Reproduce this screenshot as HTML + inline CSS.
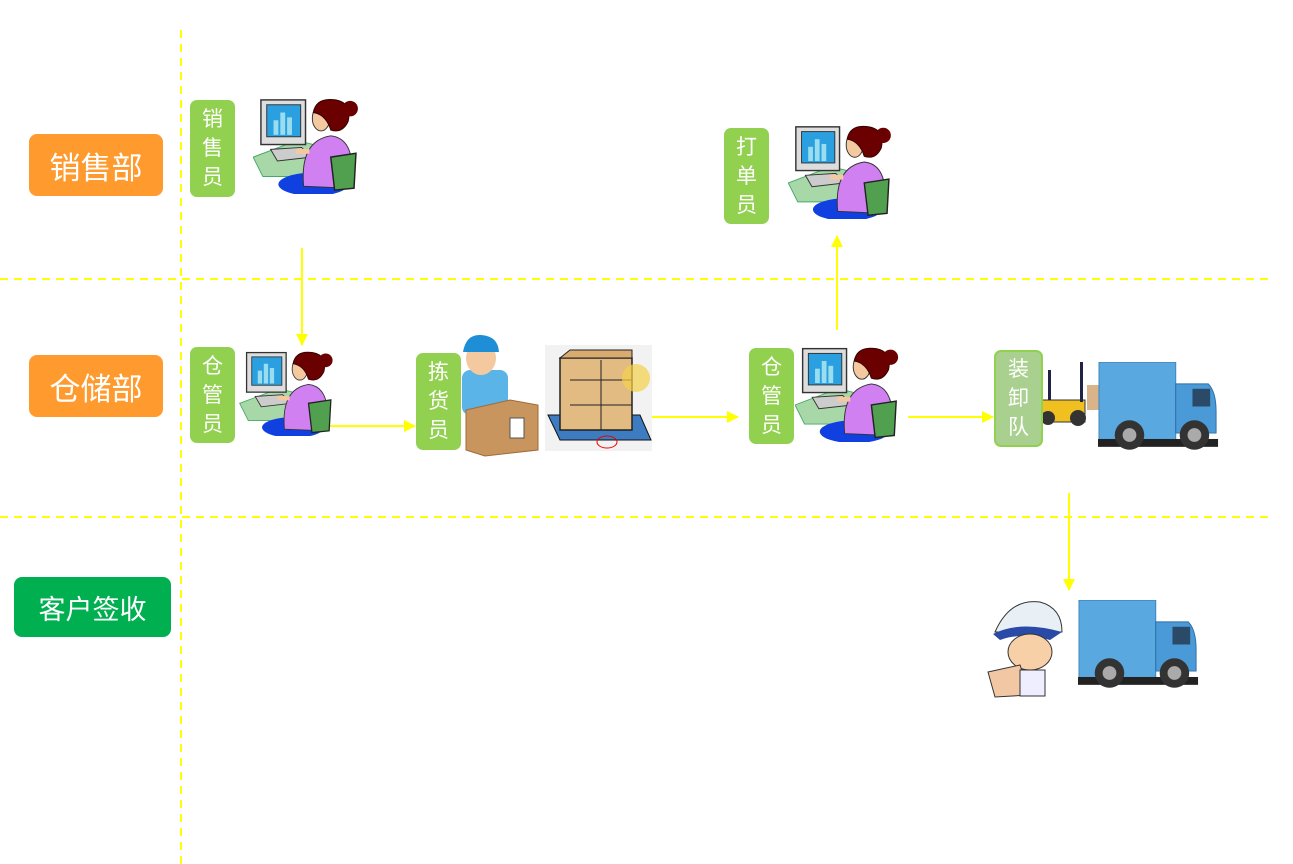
<!DOCTYPE html>
<html><head><meta charset="utf-8"><style>
body{margin:0;width:1293px;height:864px;background:#fff;position:relative;overflow:hidden;font-family:"Liberation Sans","Noto Sans CJK SC",sans-serif}
.a{position:absolute}
.dept{position:absolute;color:#fff;border-radius:8px;display:flex;align-items:center;justify-content:center}
.lab{position:absolute;background:#92d050;border-radius:7px;color:#fff;font-size:21px;line-height:29px;text-align:center;display:flex;align-items:center;justify-content:center}
</style></head><body>
<svg class="a" style="left:0;top:0" width="1293" height="864">
<defs>
<symbol id="w" viewBox="0 0 110 100">
<polygon points="0,62 45,45 75,52 55,82 10,82" fill="#a8d8a8" stroke="#4a6" stroke-width="1"/>
<rect x="8" y="3" width="46" height="46" fill="#ddd" stroke="#333" stroke-width="1.5"/>
<rect x="14" y="8" width="35" height="33" fill="#2aa0e0" stroke="#333"/>
<rect x="21" y="24" width="5" height="15" fill="#9de"/><rect x="28" y="16" width="5" height="23" fill="#9de"/><rect x="35" y="21" width="5" height="18" fill="#9de"/>
<polygon points="18,54 50,52 60,62 25,66" fill="#ccc" stroke="#333"/>
<ellipse cx="62" cy="90" rx="36" ry="12" fill="#1040e0"/>
<path d="M52,92 Q48,45 80,40 Q100,42 102,70 L98,94 Z" fill="#d080f0" stroke="#333"/>
<path d="M80,62 L106,58 L104,94 L84,96 Z" fill="#50a050" stroke="#222" stroke-width="1.5"/>
<ellipse cx="70" cy="22" rx="9" ry="13" fill="#f5c9a0" stroke="#333"/>
<path d="M62,16 Q65,0 85,3 Q102,6 98,25 Q92,38 80,34 Q75,18 62,16Z" fill="#6b0000" stroke="#300"/>
<circle cx="100" cy="12" r="8" fill="#6b0000"/>
<path d="M58,56 L44,56" stroke="#f5c9a0" stroke-width="5"/>
</symbol>
<symbol id="t" viewBox="0 0 125 90">
<rect x="1" y="0" width="78" height="80" fill="#5aa8e0" stroke="#3c86c0"/>
<rect x="0" y="78" width="122" height="8" fill="#222"/>
<path d="M79,22 L112,22 Q120,30 120,50 L120,72 L79,72Z" fill="#4a9ad8" stroke="#2d6fa8"/>
<rect x="96" y="27" width="18" height="18" fill="#2a4a68"/>
<circle cx="32" cy="74" r="15" fill="#333"/><circle cx="32" cy="74" r="7" fill="#aaa"/>
<circle cx="98" cy="74" r="15" fill="#333"/><circle cx="98" cy="74" r="7" fill="#aaa"/>
</symbol>
<marker id="ar" markerWidth="12" markerHeight="12" refX="11" refY="6" orient="auto" markerUnits="userSpaceOnUse"><path d="M0,0 L12,6 L0,12Z" fill="#ffff00"/></marker>
</defs>
<g stroke="#ffff00" stroke-width="2" stroke-dasharray="8,6" fill="none">
<line x1="181" y1="30" x2="181" y2="864"/>
<line x1="0" y1="279" x2="1270" y2="279"/>
<line x1="0" y1="517" x2="1270" y2="517"/>
</g>
<g stroke="#ffff00" stroke-width="2" marker-end="url(#ar)">
<line x1="302" y1="248" x2="302" y2="345"/>
<line x1="330" y1="426" x2="415" y2="426"/>
<line x1="652" y1="417" x2="738" y2="417"/>
<line x1="837" y1="330" x2="837" y2="236"/>
<line x1="908" y1="417" x2="993" y2="417"/>
<line x1="1069" y1="493" x2="1069" y2="590"/>
</g>
<use href="#w" x="253" y="97" width="107" height="97"/>
<use href="#w" x="787" y="124" width="107" height="95"/>
<use href="#w" x="239" y="350" width="96" height="86"/>
<use href="#w" x="795" y="345" width="105" height="97"/>
<!-- picker -->
<rect x="462" y="370" width="46" height="45" rx="8" fill="#5ab4e8"/>
<ellipse cx="481" cy="358" rx="15" ry="17" fill="#f5c9a0"/>
<path d="M463,352 Q466,334 481,335 Q498,336 499,352Z" fill="#1e8ed6"/>
<polygon points="466,410 510,400 538,405 538,450 485,456 466,450" fill="#c8955e" stroke="#a06a3a"/>
<rect x="510" y="418" width="14" height="20" fill="#fff" stroke="#555"/>
<!-- pallet -->
<rect x="545" y="345" width="107" height="106" fill="#f2f2f2"/>
<polygon points="548,415 640,415 651,440 560,440" fill="#3d7cc0" stroke="#111"/>
<rect x="560" y="358" width="72" height="72" fill="#e2bb83" stroke="#222" stroke-width="1.5"/>
<line x1="570" y1="380" x2="632" y2="380" stroke="#222"/><line x1="570" y1="405" x2="632" y2="405" stroke="#222"/><line x1="601" y1="360" x2="601" y2="430" stroke="#222"/>
<polygon points="560,358 570,350 632,350 632,358" fill="#d9ab70" stroke="#222"/>
<circle cx="636" cy="378" r="14" fill="#f3d24a" opacity=".7"/>
<ellipse cx="607" cy="442" rx="10" ry="6" fill="none" stroke="#e00"/>
<!-- forklift -->
<path d="M1040,400 L1085,400 L1085,422 L1040,422Z" fill="#f0c020" stroke="#333"/>
<rect x="1048" y="370" width="3" height="30" fill="#224"/><rect x="1080" y="362" width="3" height="40" fill="#224"/>
<circle cx="1048" cy="418" r="7" fill="#333"/><circle cx="1078" cy="418" r="8" fill="#333"/>
<rect x="1087" y="385" width="12" height="25" fill="#d9b48a"/>
<use href="#t" x="1098" y="362" width="123" height="89"/>
<use href="#t" x="1078" y="600" width="123" height="89"/>
<!-- customer -->
<path d="M995,632 Q1010,598 1040,602 Q1062,608 1062,632Z" fill="#e8f0f6" stroke="#333"/>
<path d="M993,634 Q1020,620 1062,632 L1050,640 Q1020,632 1000,640Z" fill="#2a4aa8"/>
<ellipse cx="1030" cy="652" rx="22" ry="18" fill="#f8d0a8" stroke="#333"/>
<polygon points="988,672 1020,665 1030,695 995,697" fill="#f2c8a4" stroke="#333"/>
<rect x="1020" y="670" width="25" height="26" fill="#eef" stroke="#333"/>
</svg>
<div class="dept" style="left:29px;top:134px;width:134px;height:62px;background:#ff9a2e;font-size:31px">销售部</div>
<div class="dept" style="left:29px;top:355px;width:134px;height:62px;background:#ff9a2e;font-size:31px">仓储部</div>
<div class="dept" style="left:14px;top:577px;width:157px;height:60px;background:#00b050;font-size:27px">客户签收</div>
<div class="lab" style="left:190px;top:100px;width:45px;height:97px">销<br>售<br>员</div>
<div class="lab" style="left:724px;top:128px;width:45px;height:96px">打<br>单<br>员</div>
<div class="lab" style="left:190px;top:347px;width:45px;height:96px">仓<br>管<br>员</div>
<div class="lab" style="left:416px;top:353px;width:45px;height:97px">拣<br>货<br>员</div>
<div class="lab" style="left:749px;top:348px;width:45px;height:96px">仓<br>管<br>员</div>
<div class="lab" style="left:994px;top:350px;background:#a9d08e;border:2px solid #92d050;box-sizing:border-box;width:49px;height:97px">装<br>卸<br>队</div>
</body></html>
